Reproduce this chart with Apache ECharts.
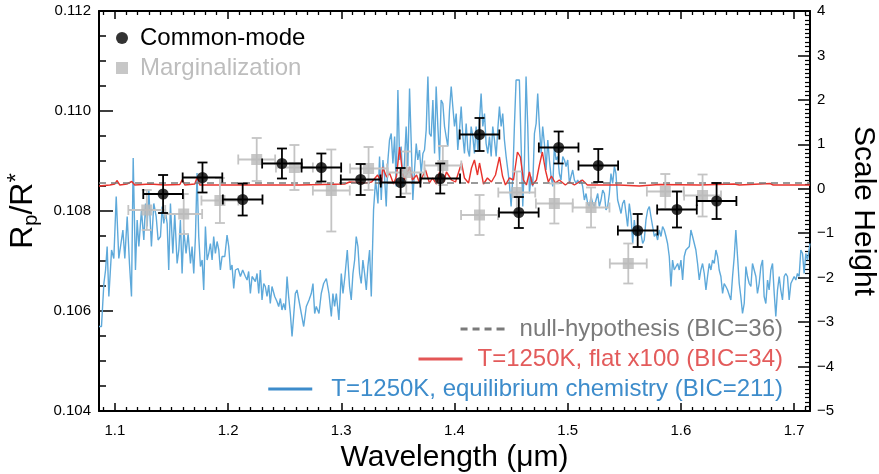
<!DOCTYPE html>
<html>
<head>
<meta charset="utf-8">
<script src="https://cdn.jsdelivr.net/npm/echarts@6.0.0/dist/echarts.min.js"></script>
<style>
  html, body { margin: 0; padding: 0; background: #fff; }
  #chart { width: 879px; height: 474px; }
</style>
</head>
<body>
<div id="chart"></div>
<script>
// ---- values ----
const xTickLabels = [1.1, 1.2, 1.3, 1.4, 1.5, 1.6, 1.7];

// common-mode spectrum (black)
const commonWl = [1.1426, 1.1774, 1.2129, 1.2476, 1.2824, 1.3171, 1.3524, 1.3874, 1.4221, 1.4568, 1.4920, 1.5270, 1.5618, 1.5965, 1.6315];
const commonRp = [0.10834, 0.10867, 0.10823, 0.10895, 0.10887, 0.10863, 0.10857, 0.10865, 0.10953, 0.10797, 0.10927, 0.10891, 0.10761, 0.10803, 0.10820];
const commonErr = [0.00038, 0.00030, 0.00032, 0.00030, 0.00028, 0.00031, 0.00029, 0.00030, 0.00033, 0.00031, 0.00032, 0.00033, 0.00033, 0.00036, 0.00036];
const commonBin = 0.0175;

// marginalization spectrum (grey)
const margWl = [1.1282, 1.1608, 1.1928, 1.2253, 1.2586, 1.2912, 1.3241, 1.3574, 1.3897, 1.4221, 1.4550, 1.4882, 1.5206, 1.5535, 1.5862, 1.6191];
const margRp = [0.10802, 0.10794, 0.10821, 0.10903, 0.10887, 0.10841, 0.10885, 0.10877, 0.10891, 0.10792, 0.10837, 0.10815, 0.10807, 0.10695, 0.10839, 0.10831];
const margErr = [0.00040, 0.00040, 0.00045, 0.00043, 0.00045, 0.00082, 0.00043, 0.00042, 0.00039, 0.00040, 0.00042, 0.00040, 0.00040, 0.00040, 0.00035, 0.00042];
const margBin = 0.0163;

const nullLevel = 0.10856;

// T=1250K flat x100 model
const flatModel = [
  [1.0860,0.10850],[1.0956,0.10852],[1.1000,0.10854],[1.1018,0.10861],[1.1044,0.10852],[1.1106,0.10854],
  [1.1150,0.10859],[1.1176,0.10852],[1.1309,0.10854],[1.1441,0.10852],[1.1574,0.10853],[1.1596,0.10863],
  [1.1618,0.10852],[1.1706,0.10854],[1.1728,0.10868],[1.1750,0.10852],[1.2015,0.10852],[1.2279,0.10852],
  [1.2632,0.10852],[1.3029,0.10854],[1.3074,0.10858],[1.3206,0.10856],[1.3268,0.10858],[1.3321,0.10872],
  [1.3356,0.10856],[1.3365,0.10888],[1.3400,0.10868],[1.3426,0.10876],[1.3462,0.10854],[1.3488,0.10870],
  [1.3515,0.10928],[1.3541,0.10876],[1.3559,0.10862],[1.3603,0.10888],[1.3629,0.10862],[1.3665,0.10872],
  [1.3691,0.10856],[1.3744,0.10882],[1.3779,0.10856],[1.3806,0.10866],[1.3841,0.10854],[1.3868,0.10878],
  [1.3903,0.10858],[1.3929,0.10878],[1.3974,0.10862],[1.4009,0.10858],[1.4062,0.10896],[1.4088,0.10866],
  [1.4124,0.10856],[1.4150,0.10886],[1.4176,0.10902],[1.4203,0.10872],[1.4221,0.10896],[1.4256,0.10854],
  [1.4291,0.10866],[1.4326,0.10858],[1.4362,0.10872],[1.4397,0.10908],[1.4424,0.10870],[1.4450,0.10852],
  [1.4485,0.10866],[1.4521,0.10862],[1.4556,0.10918],[1.4582,0.10908],[1.4609,0.10862],[1.4635,0.10852],
  [1.4662,0.10878],[1.4688,0.10852],[1.4724,0.10862],[1.4750,0.10892],[1.4776,0.10918],[1.4803,0.10882],
  [1.4829,0.10858],[1.4856,0.10870],[1.4891,0.10856],[1.4926,0.10862],[1.4979,0.10852],[1.5015,0.10858],
  [1.5059,0.10852],[1.5129,0.10862],[1.5174,0.10852],[1.5279,0.10852],[1.5456,0.10852],[1.5632,0.10850],
  [1.5809,0.10853],[1.6162,0.10852],[1.6471,0.10854],[1.6488,0.10858],[1.6515,0.10852],[1.6788,0.10855],
  [1.6815,0.10852],[1.7140,0.10852]
];

// T=1250K equilibrium chemistry model
const eqModel = [
  [1.0860,0.10569],[1.0882,0.10569],[1.0903,0.10655],[1.0918,0.10682],[1.0932,0.10729],[1.0947,0.10629],
  [1.0971,0.10722],[1.0991,0.10705],[1.1012,0.10829],[1.1035,0.10705],[1.1050,0.10709],[1.1071,0.10762],
  [1.1088,0.10705],[1.1109,0.10789],[1.1129,0.10695],[1.1147,0.10629],[1.1162,0.10906],[1.1182,0.10682],
  [1.1197,0.10782],[1.1212,0.10729],[1.1235,0.10802],[1.1256,0.10742],[1.1271,0.10815],[1.1285,0.10769],
  [1.1300,0.10842],[1.1323,0.10729],[1.1344,0.10815],[1.1365,0.10789],[1.1382,0.10742],[1.1403,0.10749],
  [1.1418,0.10809],[1.1432,0.10775],[1.1447,0.10799],[1.1462,0.10775],[1.1476,0.10682],[1.1491,0.10815],
  [1.1512,0.10715],[1.1529,0.10795],[1.1550,0.10695],[1.1565,0.10722],[1.1579,0.10782],[1.1594,0.10675],
  [1.1609,0.10762],[1.1629,0.10715],[1.1647,0.10755],[1.1668,0.10695],[1.1682,0.10729],[1.1697,0.10675],
  [1.1712,0.10749],[1.1726,0.10876],[1.1741,0.10749],[1.1756,0.10689],[1.1771,0.10702],[1.1785,0.10642],
  [1.1800,0.10769],[1.1815,0.10702],[1.1829,0.10715],[1.1844,0.10735],[1.1859,0.10702],[1.1873,0.10749],
  [1.1888,0.10715],[1.1903,0.10739],[1.1918,0.10722],[1.1932,0.10682],[1.1947,0.10709],[1.1971,0.10709],
  [1.1991,0.10752],[1.2006,0.10729],[1.2021,0.10682],[1.2035,0.10692],[1.2050,0.10645],[1.2065,0.10682],
  [1.2088,0.10685],[1.2109,0.10669],[1.2129,0.10682],[1.2153,0.10669],[1.2168,0.10662],[1.2182,0.10679],
  [1.2197,0.10635],[1.2212,0.10669],[1.2226,0.10669],[1.2241,0.10659],[1.2256,0.10675],[1.2271,0.10635],
  [1.2285,0.10682],[1.2300,0.10622],[1.2315,0.10655],[1.2329,0.10649],[1.2344,0.10629],[1.2359,0.10652],
  [1.2373,0.10615],[1.2388,0.10649],[1.2412,0.10629],[1.2432,0.10619],[1.2447,0.10609],[1.2462,0.10625],
  [1.2476,0.10602],[1.2491,0.10615],[1.2506,0.10602],[1.2521,0.10669],[1.2535,0.10629],[1.2550,0.10595],
  [1.2565,0.10549],[1.2579,0.10589],[1.2594,0.10635],[1.2609,0.10642],[1.2647,0.10595],[1.2668,0.10569],
  [1.2691,0.10609],[1.2715,0.10622],[1.2735,0.10635],[1.2750,0.10655],[1.2765,0.10595],[1.2779,0.10609],
  [1.2803,0.10595],[1.2823,0.10635],[1.2844,0.10655],[1.2868,0.10665],[1.2891,0.10635],[1.2912,0.10589],
  [1.2926,0.10635],[1.2941,0.10609],[1.2956,0.10635],[1.2979,0.10582],[1.3000,0.10675],[1.3015,0.10635],
  [1.3032,0.10669],[1.3053,0.10722],[1.3073,0.10649],[1.3088,0.10622],[1.3103,0.10675],[1.3118,0.10702],
  [1.3132,0.10749],[1.3147,0.10729],[1.3162,0.10675],[1.3176,0.10655],[1.3191,0.10702],[1.3206,0.10675],
  [1.3221,0.10642],[1.3235,0.10689],[1.3250,0.10722],[1.3265,0.10629],[1.3285,0.10802],[1.3303,0.10862],
  [1.3309,0.10849],[1.3324,0.10815],[1.3338,0.10909],[1.3353,0.10822],[1.3368,0.10902],[1.3382,0.10869],
  [1.3397,0.10809],[1.3412,0.10902],[1.3426,0.10942],[1.3441,0.10955],[1.3456,0.10895],[1.3471,0.10949],
  [1.3485,0.10849],[1.3500,0.11042],[1.3515,0.10902],[1.3529,0.10929],[1.3544,0.10849],[1.3559,0.10902],
  [1.3573,0.10969],[1.3588,0.10889],[1.3603,0.11045],[1.3618,0.10935],[1.3632,0.10822],[1.3647,0.10882],
  [1.3662,0.10935],[1.3676,0.10902],[1.3691,0.10922],[1.3706,0.10875],[1.3721,0.10915],[1.3735,0.10922],
  [1.3750,0.10962],[1.3765,0.11069],[1.3779,0.10955],[1.3794,0.10949],[1.3809,0.11022],[1.3824,0.10915],
  [1.3838,0.11049],[1.3853,0.10969],[1.3868,0.10902],[1.3882,0.11022],[1.3897,0.11015],[1.3912,0.10969],
  [1.3926,0.10949],[1.3941,0.10929],[1.3956,0.11002],[1.3971,0.11049],[1.3985,0.11009],[1.4000,0.10969],
  [1.4015,0.10995],[1.4029,0.10922],[1.4044,0.10962],[1.4059,0.11009],[1.4074,0.10949],[1.4088,0.10915],
  [1.4103,0.10975],[1.4118,0.10922],[1.4132,0.10909],[1.4147,0.10969],[1.4162,0.10949],[1.4176,0.10915],
  [1.4191,0.10969],[1.4206,0.10922],[1.4221,0.10982],[1.4235,0.11035],[1.4250,0.10969],[1.4265,0.10995],
  [1.4279,0.10935],[1.4294,0.10915],[1.4309,0.10949],[1.4324,0.10909],[1.4338,0.10969],[1.4353,0.10942],
  [1.4368,0.10909],[1.4382,0.10962],[1.4397,0.11009],[1.4412,0.10969],[1.4426,0.10995],[1.4441,0.10942],
  [1.4456,0.10909],[1.4471,0.10882],[1.4485,0.10855],[1.4500,0.10809],[1.4515,0.10869],[1.4529,0.10969],
  [1.4544,0.11062],[1.4559,0.11065],[1.4573,0.11062],[1.4588,0.10935],[1.4603,0.10809],[1.4618,0.10902],
  [1.4632,0.11069],[1.4647,0.10969],[1.4662,0.10835],[1.4676,0.10869],[1.4691,0.10849],[1.4706,0.10955],
  [1.4721,0.10975],[1.4735,0.11035],[1.4750,0.10969],[1.4765,0.10915],[1.4779,0.10969],[1.4794,0.10935],
  [1.4809,0.10882],[1.4824,0.10942],[1.4838,0.10902],[1.4853,0.10869],[1.4868,0.10849],[1.4882,0.10929],
  [1.4897,0.10902],[1.4912,0.10909],[1.4926,0.10875],[1.4941,0.10862],[1.4956,0.10909],[1.4971,0.10902],
  [1.4985,0.10889],[1.5000,0.10902],[1.5015,0.10855],[1.5029,0.10869],[1.5044,0.10882],[1.5059,0.10862],
  [1.5074,0.10855],[1.5088,0.10862],[1.5103,0.10855],[1.5118,0.10862],[1.5132,0.10849],[1.5147,0.10822],
  [1.5162,0.10835],[1.5176,0.10815],[1.5191,0.10809],[1.5206,0.10829],[1.5221,0.10815],[1.5235,0.10809],
  [1.5250,0.10822],[1.5265,0.10835],[1.5279,0.10809],[1.5294,0.10822],[1.5309,0.10842],[1.5324,0.10835],
  [1.5338,0.10802],[1.5353,0.10809],[1.5368,0.10835],[1.5382,0.10875],[1.5397,0.10855],[1.5412,0.10889],
  [1.5426,0.10875],[1.5441,0.10822],[1.5456,0.10809],[1.5471,0.10795],[1.5485,0.10815],[1.5500,0.10822],
  [1.5515,0.10795],[1.5529,0.10769],[1.5544,0.10815],[1.5559,0.10789],[1.5574,0.10735],[1.5588,0.10782],
  [1.5603,0.10749],[1.5618,0.10769],[1.5647,0.10755],[1.5662,0.10735],[1.5676,0.10742],[1.5691,0.10782],
  [1.5706,0.10802],[1.5721,0.10809],[1.5735,0.10789],[1.5750,0.10769],[1.5765,0.10749],[1.5779,0.10755],
  [1.5794,0.10742],[1.5809,0.10762],[1.5824,0.10749],[1.5838,0.10769],[1.5853,0.10762],[1.5868,0.10749],
  [1.5882,0.10735],[1.5897,0.10709],[1.5912,0.10649],[1.5926,0.10702],[1.5941,0.10682],[1.5956,0.10682],
  [1.5971,0.10695],[1.5985,0.10682],[1.6000,0.10702],[1.6015,0.10662],[1.6029,0.10709],[1.6044,0.10722],
  [1.6059,0.10722],[1.6074,0.10729],[1.6088,0.10762],[1.6103,0.10749],[1.6118,0.10749],[1.6132,0.10722],
  [1.6147,0.10695],[1.6162,0.10662],[1.6176,0.10682],[1.6191,0.10695],[1.6206,0.10675],[1.6221,0.10642],
  [1.6235,0.10669],[1.6250,0.10695],[1.6265,0.10682],[1.6279,0.10702],[1.6294,0.10695],[1.6309,0.10722],
  [1.6324,0.10709],[1.6338,0.10682],[1.6353,0.10669],[1.6368,0.10635],[1.6382,0.10655],[1.6397,0.10649],
  [1.6412,0.10642],[1.6426,0.10642],[1.6441,0.10622],[1.6456,0.10669],[1.6471,0.10709],[1.6485,0.10762],
  [1.6500,0.10709],[1.6515,0.10655],[1.6529,0.10629],[1.6544,0.10595],[1.6559,0.10615],[1.6574,0.10689],
  [1.6588,0.10669],[1.6603,0.10655],[1.6618,0.10649],[1.6632,0.10695],[1.6647,0.10682],[1.6662,0.10669],
  [1.6676,0.10635],[1.6691,0.10655],[1.6706,0.10689],[1.6721,0.10702],[1.6735,0.10629],[1.6750,0.10615],
  [1.6765,0.10662],[1.6779,0.10642],[1.6794,0.10682],[1.6809,0.10695],[1.6824,0.10635],[1.6838,0.10589],
  [1.6853,0.10642],[1.6868,0.10669],[1.6882,0.10642],[1.6897,0.10622],[1.6912,0.10669],[1.6926,0.10675],
  [1.6941,0.10669],[1.6956,0.10622],[1.6971,0.10655],[1.6985,0.10655],[1.7000,0.10669],[1.7015,0.10662],
  [1.7029,0.10675],[1.7044,0.10669],[1.7059,0.10722],[1.7074,0.10715],[1.7088,0.10675],[1.7103,0.10715],
  [1.7118,0.10702],[1.7132,0.10722],[1.7140,0.10735]
];

const nameCommon = 'Common-mode';
const nameMarg = 'Marginalization';
const nameNull = 'null-hypothesis (BIC=36)';
const nameFlat = 'T=1250K, flat x100 (BIC=34)';
const nameEq = 'T=1250K, equilibrium chemistry (BIC=211)';

const xMin = 1.086, xMax = 1.714;
const FONT = 'Liberation Sans, Arial, Helvetica, sans-serif';

// minor x ticks every 0.01 um
const xMinorTicks = [];
for (let i = 109; i <= 171; i++) {
  if (i % 10 !== 0) xMinorTicks.push(i / 100);
}

// legend line samples (solid and dashed) as icon paths
const solidIcon = 'path://M0,0h44v3h-44z';
const dashedIcon = 'path://M0,0h7v3h-7z M12,0h7v3h-7z M24,0h7v3h-7z M36,0h8v3h-8z';

function errorBars(color, bin) {
  return function (params, api) {
    const x = api.value(0), y = api.value(1), e = api.value(2);
    const c = api.coord([x, y]);
    const l = api.coord([x - bin, y]);
    const r = api.coord([x + bin, y]);
    const t = api.coord([x, y + e]);
    const b = api.coord([x, y - e]);
    const cap = 5;
    const style = { stroke: color, lineWidth: 1.8 };
    const seg = (x1, y1, x2, y2) => ({ type: 'line', shape: { x1, y1, x2, y2 }, style });
    return {
      type: 'group',
      children: [
        seg(l[0], c[1], r[0], c[1]),
        seg(c[0], t[1], c[0], b[1]),
        seg(l[0], c[1] - cap, l[0], c[1] + cap),
        seg(r[0], c[1] - cap, r[0], c[1] + cap),
        seg(c[0] - cap, t[1], c[0] + cap, t[1]),
        seg(c[0] - cap, b[1], c[0] + cap, b[1])
      ]
    };
  };
}

const chart = echarts.init(document.getElementById('chart'));

const baseX = {
  type: 'value', min: xMin, max: xMax,
  splitLine: { show: false },
  axisLine: { onZero: false, lineStyle: { color: '#000', width: 2 } }
};

function lineLegend(name, top, icon, color, textColor, gap) {
  return {
    right: 96, top: top, padding: 0, itemWidth: 44, itemHeight: 3, selectedMode: false,
    textStyle: { fontSize: 24, lineHeight: 26, color: textColor, fontFamily: FONT, padding: [0, 0, 0, gap] },
    data: [{ name: name, icon: icon, itemStyle: { color: color } }]
  };
}

chart.setOption({
  animation: false,
  backgroundColor: '#fff',
  textStyle: { fontFamily: FONT },
  grid: { left: 99, right: 69, top: 11, bottom: 63, outerBoundsMode: 'none', containLabel: false },
  legend: [
    {
      orient: 'vertical', left: 116, top: 26, padding: 0,
      itemWidth: 12, itemHeight: 12, itemGap: 6, selectedMode: false,
      textStyle: { fontSize: 24, lineHeight: 24, fontFamily: FONT, padding: [0, 0, 0, 7] },
      data: [
        { name: nameCommon, textStyle: { color: '#000' } },
        { name: nameMarg, textStyle: { color: '#bdbdbd' } }
      ]
    },
    lineLegend(nameNull, 316, dashedIcon, '#7a7a7a', '#7a7a7a', 10),
    lineLegend(nameFlat, 346, solidIcon, '#e35656', '#e35b5b', 10),
    lineLegend(nameEq, 376, solidIcon, '#3d8ccb', '#3d8ccb', 14)
  ],
  xAxis: [
    Object.assign({}, baseX, {
      position: 'bottom',
      axisTick: { inside: true, length: 8, customValues: xTickLabels, lineStyle: { color: '#000', width: 1.5 } },
      axisLabel: { customValues: xTickLabels, formatter: v => v.toFixed(1), color: '#000', fontSize: 15, margin: 12, fontFamily: FONT },
      name: 'Wavelength (\u03bcm)', nameLocation: 'middle', nameGap: 26,
      nameTextStyle: { fontSize: 30, color: '#000', fontFamily: FONT }
    }),
    Object.assign({}, baseX, {
      position: 'bottom', axisLine: { show: false, onZero: false },
      axisTick: { inside: true, length: 4, customValues: xMinorTicks, lineStyle: { color: '#000', width: 1.3 } },
      axisLabel: { show: false }
    }),
    Object.assign({}, baseX, {
      position: 'top',
      axisTick: { inside: true, length: 8, customValues: xTickLabels, lineStyle: { color: '#000', width: 1.5 } },
      axisLabel: { show: false }
    }),
    Object.assign({}, baseX, {
      position: 'top', axisLine: { show: false, onZero: false },
      axisTick: { inside: true, length: 4, customValues: xMinorTicks, lineStyle: { color: '#000', width: 1.3 } },
      axisLabel: { show: false }
    })
  ],
  yAxis: [
    {
      type: 'value', position: 'left', min: 0.104, max: 0.112, interval: 0.002,
      splitLine: { show: false },
      axisLine: { show: true, onZero: false, lineStyle: { color: '#000', width: 2 } },
      axisTick: { inside: true, length: 14, lineStyle: { color: '#000', width: 1.5 } },
      minorTick: { show: true, splitNumber: 4, length: 7, lineStyle: { color: '#000', width: 1.5 } },
      axisLabel: { formatter: v => v.toFixed(3), color: '#000', fontSize: 15, margin: 8, fontFamily: FONT },
      name: '{r|R}{s|p}{r|/R}{u|*}', nameLocation: 'middle', nameGap: 58, nameRotate: 90,
      nameTextStyle: {
        color: '#000', fontFamily: FONT, fontSize: 30,
        rich: {
          r: { fontSize: 32, lineHeight: 36, fontFamily: FONT, color: '#000' },
          s: { fontSize: 20, lineHeight: 20, verticalAlign: 'bottom', fontFamily: FONT, color: '#000' },
          u: { fontSize: 24, lineHeight: 22, verticalAlign: 'top', fontFamily: FONT, color: '#000' }
        }
      }
    },
    {
      type: 'value', position: 'right', min: -5, max: 4, interval: 1,
      splitLine: { show: false },
      axisLine: { show: true, onZero: false, lineStyle: { color: '#000', width: 2 } },
      axisTick: { inside: true, length: 12, lineStyle: { color: '#000', width: 1.5 } },
      minorTick: { show: true, splitNumber: 10, length: 5, lineStyle: { color: '#000', width: 1.2 } },
      axisLabel: {
        formatter: v => (v < 0 ? '\u2212' + (-v) : String(v)),
        color: '#000', fontSize: 15, margin: 7, fontFamily: FONT
      },
      name: 'Scale Height', nameLocation: 'middle', nameGap: 38, nameRotate: -90,
      nameTextStyle: { fontSize: 30, color: '#000', fontFamily: FONT }
    }
  ],
  series: [
    {
      name: nameEq, type: 'line', data: eqModel, symbol: 'none', z: 1,
      lineStyle: { color: '#5ea9da', width: 1.4 }, itemStyle: { color: '#5ea9da' }
    },
    {
      name: nameFlat, type: 'line', data: flatModel, symbol: 'none', z: 2,
      lineStyle: { color: '#e8322c', width: 1.4 }, itemStyle: { color: '#e8322c' }
    },
    {
      name: nameNull, type: 'line', symbol: 'none', z: 2,
      data: [[xMin, nullLevel], [xMax, nullLevel]],
      lineStyle: { color: '#7a7a7a', width: 1.6, type: [7, 5] }, itemStyle: { color: '#7a7a7a' }
    },
    {
      type: 'custom', z: 3,
      renderItem: errorBars('#c4c4c4', margBin),
      encode: { x: 0, y: 1 },
      data: margWl.map((w, i) => [w, margRp[i], margErr[i]])
    },
    {
      name: nameMarg, type: 'scatter', symbol: 'rect', symbolSize: 11, z: 4,
      itemStyle: { color: '#b9b9b9' },
      data: margWl.map((w, i) => [w, margRp[i]])
    },
    {
      type: 'custom', z: 5,
      renderItem: errorBars('#000', commonBin),
      encode: { x: 0, y: 1 },
      data: commonWl.map((w, i) => [w, commonRp[i], commonErr[i]])
    },
    {
      name: nameCommon, type: 'scatter', symbol: 'circle', symbolSize: 11, z: 6,
      itemStyle: { color: '#000' },
      data: commonWl.map((w, i) => [w, commonRp[i]])
    }
  ]
});
</script>
</body>
</html>
